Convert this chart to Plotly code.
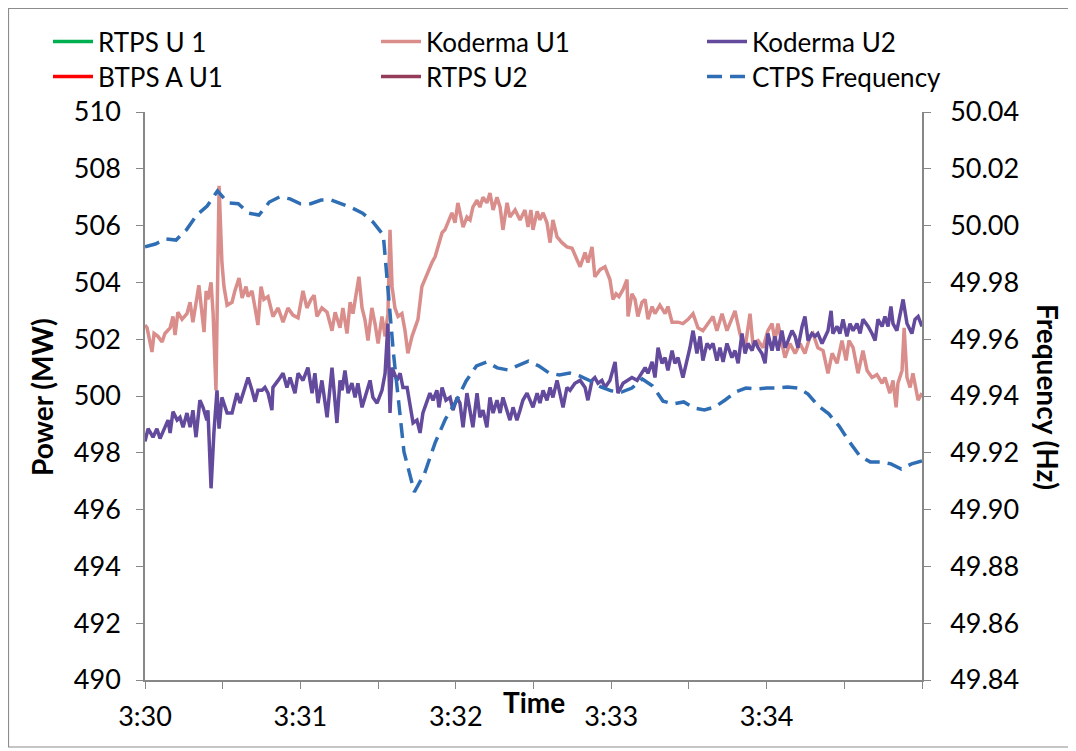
import pandas as pd
import plotly.graph_objects as go

# ---------------- data (seconds after 3:30:00) ----------------
ku1_t = [0, 0.8, 2.7, 3.5, 5.0, 6.6, 7.7, 9.7, 10.8, 11.6, 12.7, 14.3, 16.2, 17.4, 18.5, 20.1, 20.8, 22.0, 22.8, 23.6,
         24.3, 25.5, 26.3, 27.4, 28.6, 29.7, 30.5, 31.7, 33.6, 34.7, 36.3, 37.5, 39.0, 39.8, 41.3, 42.5, 43.6, 44.8, 45.9, 47.5,
         49.4, 51.4, 53.3, 55.2, 57.1, 59.1, 61.0, 62.5, 64.1, 65.3, 66.4, 68.3, 70.3, 72.2, 73.4, 75.3, 76.4, 78.0, 79.2, 80.3,
         81.9, 82.6, 83.8, 84.9, 86.1, 87.6, 88.8, 90.0, 91.5, 92.7, 93.8, 94.6, 95.4, 96.5, 97.7, 99.2, 100.4, 101.5, 103.1, 104.2,
         105.4, 106.9, 108.9, 110.8, 112.0, 113.1, 114.7, 115.8, 117.0, 118.5, 119.7, 120.8, 122.0, 122.8, 124.3, 125.5, 126.6, 128.2, 129.3, 130.5,
         132.0, 133.2, 134.4, 135.9, 137.1, 138.2, 139.8, 140.9, 142.9, 144.8, 146.7, 147.9, 149.0, 149.8, 151.4, 152.5, 153.7, 155.2, 156.4, 157.5,
         159.1, 161.0, 162.9, 164.9, 166.8, 168.0, 169.9, 171.0, 172.6, 173.7, 175.7, 177.6, 179.5, 180.7, 181.9, 183.0, 184.6, 186.1, 186.5, 188.0,
         189.2, 190.3, 191.9, 193.1, 194.2, 195.8, 196.9, 198.8, 200.8, 201.9, 203.5, 205.8, 207.7, 209.7, 211.6, 213.5, 215.4, 217.4, 219.3, 220.8,
         222.8, 224.7, 227.8, 229.7, 231.7, 233.6, 234.7, 236.7, 238.6, 240.5, 242.1, 243.2, 244.4, 245.9, 247.1, 249.0, 251.0, 252.9, 254.8, 256.8,
         257.9, 259.8, 261.8, 263.7, 265.3, 267.2, 269.1, 270.7, 271.8, 273.4, 275.3, 277.2, 278.8, 280.7, 282.6, 284.6, 285.7, 287.6, 288.8, 290.0,
         290.7, 292.3, 293.1, 294.2, 295.4, 296.5, 298.5, 300.0]
ku1_v = [502.5, 502.4, 501.55, 502.2, 502.1, 501.9, 502.2, 502.4, 502.8, 502.15, 502.95, 502.7, 502.9, 503.3, 502.6, 503.6, 503.9, 502.9, 502.25, 503.7,
         503.4, 504.0, 502.9, 500.2, 507.4, 504.7, 503.85, 503.2, 503.3, 503.7, 504.15, 503.45, 503.85, 503.5, 503.7, 503.1, 502.5, 503.85, 503.4, 503.5,
         502.8, 503.1, 502.6, 503.1, 502.85, 502.75, 503.7, 503.1, 503.4, 503.55, 502.8, 503.1, 502.95, 502.3, 502.95, 502.4, 503.1, 502.2, 503.3, 502.9,
         503.7, 504.2, 503.1, 502.7, 501.95, 503.1, 502.55, 501.85, 502.8, 502.1, 502.9, 505.85, 503.85, 503.1, 502.8, 502.9, 502.3, 501.5, 502.1, 502.4,
         502.7, 503.85, 504.3, 504.7, 504.9, 505.25, 505.75, 505.85, 506.1, 506.45, 506.1, 506.8, 506.3, 505.95, 506.3, 506.2, 506.65, 506.9, 506.65, 507.0,
         506.8, 507.15, 506.55, 507.0, 506.65, 505.85, 506.8, 506.3, 506.55, 506.2, 506.55, 505.95, 506.55, 505.85, 506.5, 506.2, 506.45, 506.1, 505.4, 506.2,
         505.6, 505.4, 505.25, 505.2, 504.8, 504.55, 505.05, 504.7, 505.25, 504.2, 504.45, 504.55, 504.1, 503.4, 503.6, 503.5, 503.75, 504.1, 502.8, 503.6,
         503.4, 502.8, 503.3, 503.4, 502.7, 503.15, 502.9, 503.2, 502.9, 503.15, 502.6, 502.6, 502.55, 502.7, 502.9, 502.4, 502.3, 502.55, 502.8, 502.3,
         502.9, 502.3, 503.0, 502.2, 501.7, 502.9, 501.85, 501.95, 501.7, 502.3, 502.55, 501.95, 502.55, 501.85, 501.35, 501.85, 501.5, 501.85, 501.5, 502.1,
         502.2, 501.7, 501.6, 500.8, 501.5, 501.15, 501.95, 501.25, 501.95, 501.7, 500.8, 501.6, 500.9, 500.65, 500.75, 500.45, 500.65, 500.1, 500.55, 499.6,
         500.45, 500.9, 502.4, 500.65, 500.3, 500.8, 499.85, 500.1]

ku2_t = [0, 1.2, 3.1, 4.6, 5.8, 7.7, 8.9, 9.7, 10.8, 12.4, 13.5, 14.7, 16.2, 17.4, 18.5, 19.7, 21.2, 22.4, 23.9, 24.3,
         25.5, 26.6, 27.8, 28.6, 29.7, 31.7, 33.6, 35.5, 36.7, 38.6, 39.8, 41.3, 42.5, 43.6, 45.2, 46.3, 47.5, 49.0, 49.4, 51.4,
         53.3, 54.8, 56.0, 57.9, 59.1, 61.0, 62.9, 64.5, 65.6, 66.8, 68.3, 70.3, 72.2, 74.1, 75.3, 76.1, 77.2, 78.4, 79.9, 81.1,
         82.2, 83.8, 85.7, 86.9, 88.0, 89.6, 91.5, 92.7, 93.8, 94.6, 95.4, 97.3, 98.5, 99.6, 101.2, 102.3, 103.5, 105.0, 106.2, 107.3,
         108.9, 110.0, 111.2, 112.7, 113.5, 114.7, 116.2, 117.8, 118.9, 120.5, 121.6, 122.8, 124.3, 125.5, 126.6, 128.2, 129.3, 130.5, 132.0, 133.2,
         134.4, 135.9, 137.1, 138.2, 139.8, 140.9, 142.1, 143.6, 144.8, 145.9, 147.5, 148.6, 149.8, 151.4, 152.5, 153.7, 155.2, 156.4, 157.5, 159.1,
         160.2, 161.4, 162.9, 164.1, 166.0, 168.0, 169.9, 171.0, 172.6, 173.7, 174.9, 176.4, 177.6, 179.5, 181.5, 182.6, 184.6, 186.5, 188.0, 190.0,
         191.9, 193.1, 194.2, 195.8, 196.9, 198.1, 199.6, 200.8, 201.9, 203.5, 204.6, 205.8, 207.7, 209.3, 210.4, 211.6, 213.1, 214.3, 215.4, 217.0,
         218.1, 219.3, 220.8, 222.0, 223.2, 224.7, 226.6, 227.8, 229.0, 230.5, 231.7, 232.8, 234.4, 235.5, 236.7, 238.2, 239.4, 240.5, 242.1, 243.2,
         244.4, 245.9, 247.1, 248.3, 249.8, 251.0, 252.1, 253.7, 254.8, 256.0, 257.5, 258.7, 259.8, 261.4, 262.5, 263.7, 264.9, 265.6, 267.2, 268.3,
         269.5, 271.0, 272.2, 273.4, 274.9, 276.1, 277.2, 279.2, 280.7, 281.9, 283.0, 284.6, 285.7, 286.9, 288.0, 288.8, 290.3, 291.5, 292.7, 294.2,
         296.1, 297.3, 298.5, 300.0]
ku2_v = [498.4, 498.85, 498.55, 498.85, 498.5, 498.9, 499.15, 498.7, 499.45, 499.15, 499.25, 498.9, 499.4, 498.9, 499.5, 498.55, 499.85, 499.6, 499.15, 499.5,
         496.75, 498.7, 500.2, 498.85, 499.95, 499.4, 499.4, 500.1, 499.75, 500.3, 500.65, 500.2, 499.8, 500.2, 500.2, 500.3, 500.1, 499.5, 500.3, 500.55,
         500.8, 500.3, 500.65, 500.1, 500.8, 500.55, 501.0, 500.1, 500.8, 499.75, 500.55, 499.25, 501.0, 499.05, 500.55, 500.2, 500.9, 500.1, 500.45, 499.95,
         500.45, 499.6, 500.2, 500.55, 499.95, 499.75, 500.2, 500.8, 502.55, 499.4, 501.0, 500.55, 500.8, 500.3, 500.3, 499.6, 499.05, 499.15, 498.7, 499.4,
         499.85, 500.1, 499.85, 500.2, 499.6, 500.3, 499.85, 499.95, 499.5, 499.95, 499.75, 498.9, 500.1, 499.4, 498.9, 500.1, 499.25, 499.5, 498.9, 499.95,
         499.4, 499.85, 499.4, 499.95, 499.5, 499.15, 499.6, 499.15, 499.5, 499.85, 500.1, 499.85, 499.6, 500.1, 499.75, 500.2, 499.85, 500.3, 499.95, 500.55,
         500.1, 499.6, 500.3, 500.2, 500.45, 500.55, 500.3, 499.85, 500.55, 500.65, 500.45, 500.55, 500.3, 500.55, 501.2, 500.1, 500.45, 500.55, 500.65, 500.55,
         500.8, 501.0, 500.8, 501.2, 500.65, 501.7, 501.15, 501.35, 500.9, 501.6, 501.15, 501.35, 500.65, 501.25, 501.7, 502.3, 501.5, 502.1, 501.25, 501.85,
         501.7, 501.85, 501.25, 501.7, 501.2, 501.85, 501.35, 501.6, 501.15, 502.2, 501.5, 501.85, 501.6, 501.95, 501.7, 501.5, 501.15, 502.2, 501.6, 502.1,
         501.6, 502.3, 501.7, 501.95, 502.3, 502.1, 501.7, 502.45, 502.8, 501.95, 502.2, 502.1, 502.2, 501.85, 502.1, 502.3, 503.0, 502.2, 502.45, 502.2,
         502.7, 502.1, 502.55, 502.3, 502.55, 502.2, 502.7, 502.45, 502.2, 501.95, 502.7, 502.45, 502.8, 502.45, 503.15, 502.55, 502.3, 502.8, 503.4, 502.55,
         502.2, 502.7, 502.8, 502.45]

freq_t = list(range(0, 301, 4))
freq_v = [49.9925, 49.9935, 49.9953, 49.9949, 49.9985, 50.0037, 50.0069, 50.0122, 50.0080, 50.0077,
          50.0044, 50.0037, 50.0083, 50.0101, 50.0094, 50.0077, 50.0077, 50.0090, 50.0090, 50.0077,
          50.0062, 50.0044, 50.0013, 49.9967, 49.9544, 49.9203, 49.9062, 49.9129, 49.9235, 49.9319,
          49.9379, 49.9453, 49.9506, 49.9520, 49.9499, 49.9492, 49.9506, 49.9523, 49.9506, 49.9481,
          49.9474, 49.9481, 49.9470, 49.9453, 49.9432, 49.9418, 49.9414, 49.9428, 49.9460, 49.9435,
          49.9382, 49.9372, 49.9379, 49.9358, 49.9351, 49.9361, 49.9386, 49.9414, 49.9428, 49.9425,
          49.9428, 49.9428, 49.9432, 49.9428, 49.9407, 49.9365, 49.9337, 49.9294, 49.9238, 49.9189,
          49.9168, 49.9168, 49.9161, 49.9143, 49.9161, 49.9171]

tick_seconds = [0, 30, 60, 90, 120, 150, 180, 210, 240, 270, 300]
tick_labels = ["3:30", "", "3:31", "", "3:32", "", "3:33", "", "3:34", "", ""]

base = pd.Timestamp("2000-01-01 03:30:00")
def to_time(sec):
    return base + pd.to_timedelta(sec, unit="s")

FONT = "Lato"
AXC = "#878787"
LW = 3.5

# page body has an 8px margin: figure is sized/shifted so the plot area sits at
# screen x 145..922, y 112..680
OFF = 8
W, H = 1076 - OFF, 751 - OFF
pw, ph = 777, 568
L, T = 145 - OFF, 112 - OFF
R, B = W - L - pw, H - T - ph

def px(xs):  # screen x -> paper
    return (xs - 145) / pw

def py(ys):  # screen y -> paper
    return (680 - ys) / ph

fig = go.Figure()
fig.add_trace(go.Scatter(x=[None], y=[None], mode="lines", name="RTPS U 1", legend="legend",
                         line=dict(color="#00B050", width=LW)))
fig.add_trace(go.Scatter(x=to_time(ku1_t), y=ku1_v, mode="lines", name="Koderma U1", legend="legend2",
                         line=dict(color="#D98E8C", width=LW)))
fig.add_trace(go.Scatter(x=to_time(ku2_t), y=ku2_v, mode="lines", name="Koderma U2", legend="legend3",
                         line=dict(color="#634A9C", width=LW)))
fig.add_trace(go.Scatter(x=[None], y=[None], mode="lines", name="BTPS A U1", legend="legend4",
                         line=dict(color="#FF0000", width=LW)))
fig.add_trace(go.Scatter(x=[None], y=[None], mode="lines", name="RTPS U2", legend="legend5",
                         line=dict(color="#953B5A", width=LW)))
fig.add_trace(go.Scatter(x=to_time(freq_t), y=freq_v, mode="lines", name="CTPS Frequency", legend="legend6",
                         yaxis="y2", line=dict(color="#2F6EB5", width=LW, dash="15px,8px")))

def leg(xs, row_center):
    return dict(x=px(xs), y=py(row_center - 21), xanchor="left", yanchor="top", itemwidth=40,
                font=dict(size=26, family=FONT, color="black"), bgcolor="rgba(0,0,0,0)")

fig.update_layout(
    width=W, height=H,
    margin=dict(l=L, r=R, t=T, b=B, autoexpand=False),
    paper_bgcolor="white", plot_bgcolor="white",
    font=dict(family=FONT, size=27, color="black"),
    showlegend=True,
    legend=leg(48, 39), legend2=leg(376, 39), legend3=leg(702, 39),
    legend4=leg(48, 74), legend5=leg(376, 74), legend6=leg(702, 74),
    xaxis=dict(type="date", range=[to_time(0), to_time(300)],
               tickmode="array", tickvals=[to_time(s) for s in tick_seconds], ticktext=tick_labels,
               showline=True, linecolor=AXC, linewidth=1.5, ticks="outside", ticklen=7,
               tickcolor=AXC, tickwidth=1.2, showgrid=False, zeroline=False,
               tickfont=dict(size=27), ticklabelstandoff=5),
    yaxis=dict(range=[490, 510], tick0=490, dtick=2, showline=True, linecolor=AXC, linewidth=1.5,
               ticks="outside", ticklen=7, tickcolor=AXC, tickwidth=1.2, showgrid=False,
               zeroline=False, tickfont=dict(size=27), ticklabelstandoff=10),
    yaxis2=dict(range=[49.84, 50.04], tickmode="array",
                tickvals=[49.84, 49.86, 49.88, 49.90, 49.92, 49.94, 49.96, 49.98, 50.00, 50.02, 50.04],
                tickformat=".2f", overlaying="y", side="right", showline=True, linecolor=AXC,
                linewidth=1.5, ticks="outside", ticklen=7, tickcolor=AXC, tickwidth=1.2,
                showgrid=False, zeroline=False, tickfont=dict(size=27), ticklabelstandoff=14),
    shapes=[dict(type="rect", xref="paper", yref="paper", x0=px(OFF + 0.5), x1=px(1071),
                 y0=py(747), y1=py(OFF + 0.5),
                 line=dict(color="#8C8C8C", width=1.2), fillcolor="rgba(0,0,0,0)", layer="below")],
    annotations=[
        dict(text="<b>Power (MW)</b>", xref="paper", yref="paper", x=px(42), y=py(397),
             textangle=-90, showarrow=False, font=dict(size=28), xanchor="center", yanchor="middle"),
        dict(text="<b>Frequency (Hz)</b>", xref="paper", yref="paper", x=px(1048), y=py(397),
             textangle=90, showarrow=False, font=dict(size=28), xanchor="center", yanchor="middle"),
        dict(text="<b>Time</b>", xref="paper", yref="paper", x=px(534), y=py(702),
             showarrow=False, font=dict(size=28), xanchor="center", yanchor="middle"),
    ],
)

fig.write_html("out.html")
